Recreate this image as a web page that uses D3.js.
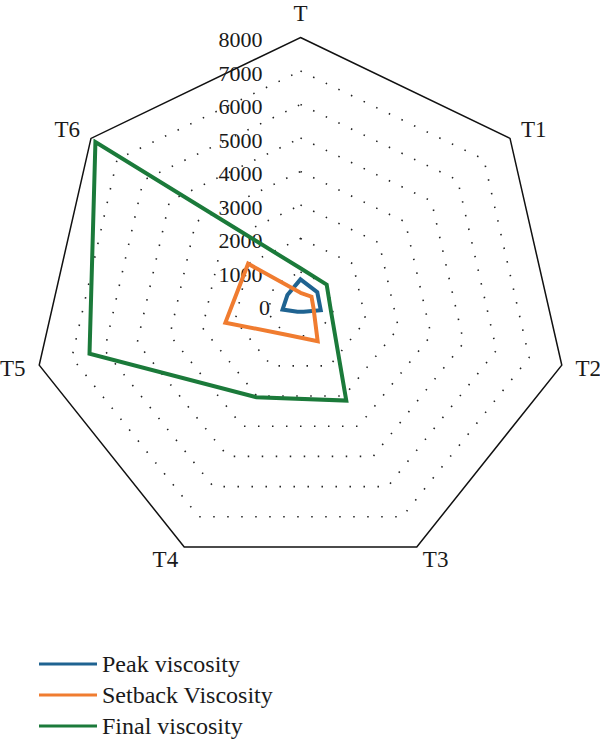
<!DOCTYPE html>
<html>
<head>
<meta charset="utf-8">
<script src="https://cdn.jsdelivr.net/npm/d3@7"></script>
<style>
  body { margin: 0; background: #fff; }
  text { font-family: "Liberation Serif", "DejaVu Serif", serif; fill: #1a1a1a; }
</style>
</head>
<body>
<script>
// Data
const axes = ['T', 'T1', 'T2', 'T3', 'T4', 'T5', 'T6'];
const peakViscosity = [780, 640, 620, 210, 210, 550, 500];
const setbackViscosity = [380, 420, 400, 1180, 970, 2300, 2000];
const finalViscosity = [1110, 1000, 940, 3150, 3040, 6460, 7830];
const seriesNames = ['Peak viscosity', 'Setback Viscosity', 'Final viscosity'];
const tickValues = [0, 1000, 2000, 3000, 4000, 5000, 6000, 7000, 8000];

const width = 600;
const height = 743;
const cx = 300.5;
const cy = 305.5;
const radius = 268;
const colors = ['#1f6391', '#f07c30', '#1b7a3a'];

const svg = d3.select('body')
  .append('svg')
  .attr('width', width)
  .attr('height', height);

const rScale = d3.scaleLinear()
  .domain([0, 8000])
  .range([0, radius]);

const angle = i => i * 2 * Math.PI / axes.length;
const px = (i, v) => cx + rScale(v) * Math.sin(angle(i));
const py = (i, v) => cy - rScale(v) * Math.cos(angle(i));

const ringLine = d3.line().curve(d3.curveLinearClosed);

// grid rings (dotted) and outer frame (solid)
tickValues.filter(v => v > 0).forEach(v => {
  const pts = axes.map((a, i) => [px(i, v), py(i, v)]);
  svg.append('path')
    .attr('d', ringLine(pts))
    .attr('fill', 'none')
    .attr('stroke', v === 8000 ? '#111' : '#222')
    .attr('stroke-width', v === 8000 ? 1.5 : 1.6)
    .attr('stroke-dasharray', v === 8000 ? null : '1.5 12.5');
});

// tick labels along the T axis
svg.append('g')
  .selectAll('text')
  .data(tickValues)
  .enter()
  .append('text')
  .attr('x', d => cx - (d === 0 ? 30.5 : 38))
  .attr('y', d => cy - rScale(d) + 2)
  .attr('text-anchor', 'end')
  .attr('dominant-baseline', 'central')
  .attr('font-size', '22px')
  .text(d => d);

// axis labels
svg.append('g')
  .selectAll('text')
  .data(axes)
  .enter()
  .append('text')
  .attr('x', (d, i) => cx + (radius + 14) * Math.sin(angle(i)))
  .attr('y', (d, i) => cy - (radius + 14) * Math.cos(angle(i)) + (i === 0 ? -10 : 0))
  .attr('text-anchor', (d, i) => {
    const s = Math.sin(angle(i));
    return s > 0.1 ? 'start' : (s < -0.1 ? 'end' : 'middle');
  })
  .attr('dominant-baseline', 'central')
  .attr('font-size', '23px')
  .text(d => d);

// series polygons
const allSeries = [peakViscosity, setbackViscosity, finalViscosity];
allSeries.forEach((vals, k) => {
  const pts = vals.map((v, i) => [px(i, v), py(i, v)]);
  svg.append('path')
    .attr('d', ringLine(pts))
    .attr('fill', 'none')
    .attr('stroke', colors[k])
    .attr('stroke-width', 4)
    .attr('stroke-linejoin', 'miter');
});

// legend
const legend = svg.append('g')
  .selectAll('g')
  .data(seriesNames)
  .enter()
  .append('g')
  .attr('transform', (d, i) => `translate(39, ${664 + i * 31})`);

legend.append('line')
  .attr('x1', 0)
  .attr('x2', 58)
  .attr('stroke', (d, i) => colors[i])
  .attr('stroke-width', 3);

legend.append('text')
  .attr('x', 63)
  .attr('y', 0)
  .attr('dominant-baseline', 'central')
  .attr('font-size', '24px')
  .text(d => d);
</script>
</body>
</html>
